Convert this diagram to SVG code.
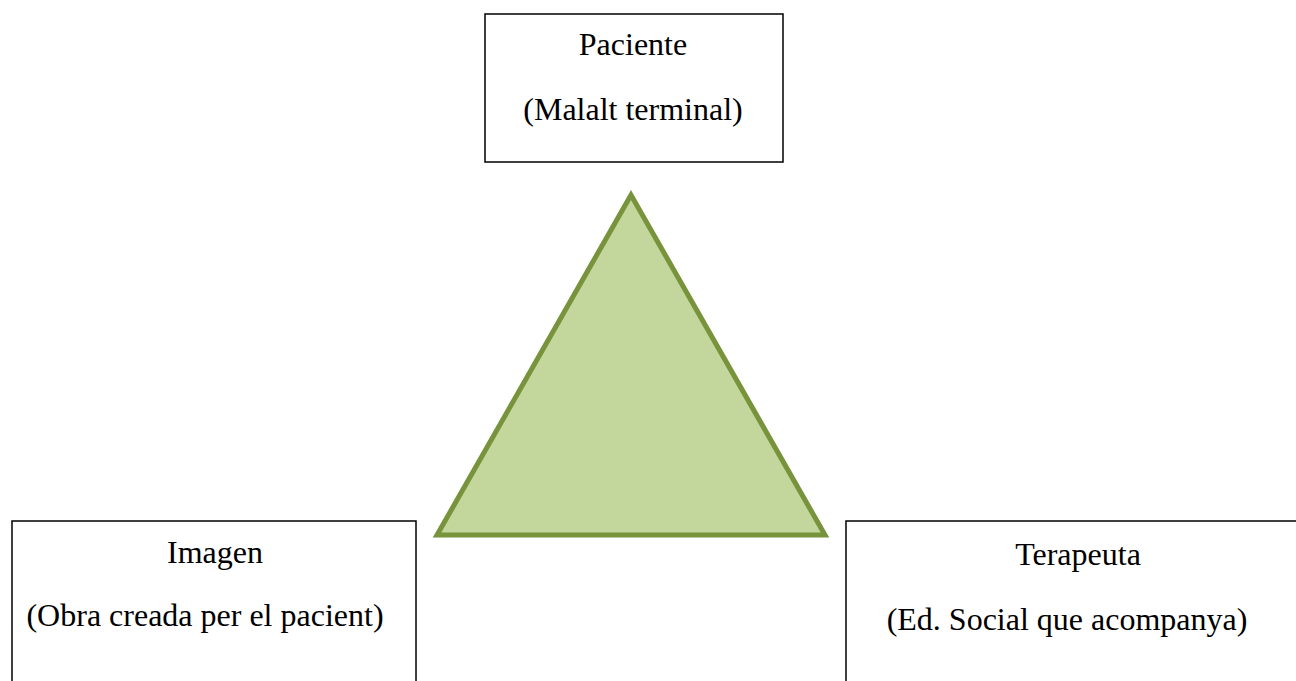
<svg xmlns="http://www.w3.org/2000/svg" width="1296" height="681" viewBox="0 0 1296 681">
<style>
.box{fill:#fff;stroke:#000;stroke-width:1.5}
.t{font-family:"Liberation Serif","Times New Roman",serif;font-size:32px;fill:#000;text-anchor:middle}
.tri{fill:#C3D69B;stroke:#77933C;stroke-width:5;stroke-linejoin:miter}
</style>
<rect width="1296" height="681" fill="#fff"/>
<g id="triangle">
<polygon class="tri" points="631,195 437,535 825,535"/>
</g>
<g id="paciente">
<rect class="box" x="485" y="14" width="298" height="148"/>
<text class="t" x="633" y="55">Paciente</text>
<text class="t" x="633" y="120">(Malalt terminal)</text>
</g>
<g id="imagen">
<rect class="box" x="12" y="521" width="404" height="180"/>
<text class="t" x="215" y="563">Imagen</text>
<text class="t" x="205" y="626">(Obra creada per el pacient)</text>
</g>
<g id="terapeuta">
<rect class="box" x="846" y="521" width="480" height="180"/>
<text class="t" x="1078" y="565">Terapeuta</text>
<text class="t" x="1067" y="630">(Ed. Social que acompanya)</text>
</g>
<g id="connectors"></g>
</svg>
